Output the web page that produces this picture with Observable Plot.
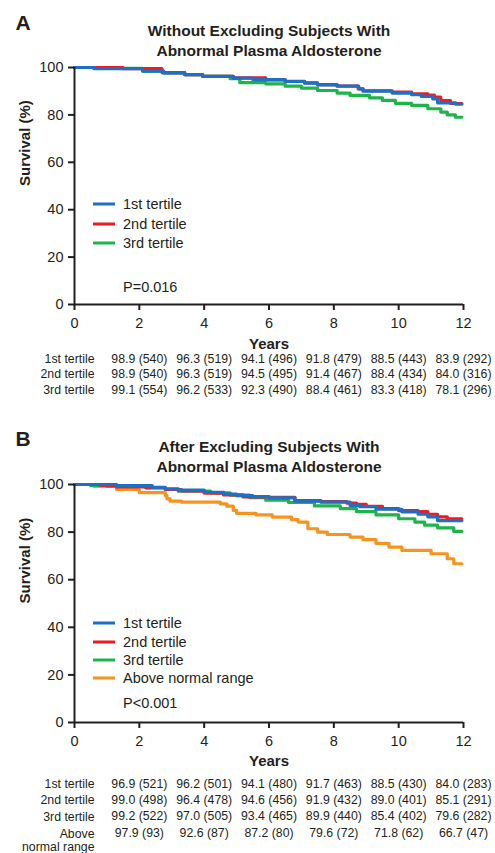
<!DOCTYPE html>
<html><head><meta charset="utf-8">
<script src="https://cdn.jsdelivr.net/npm/d3@7"></script>
<script src="https://cdn.jsdelivr.net/npm/@observablehq/plot@0.6"></script>
<style>
body{margin:0;background:#fff;font-family:"Liberation Sans",Arial,sans-serif;color:#231f20}
#wrap{position:relative;width:495px;height:853px;overflow:hidden;background:#fff}
#wrap svg{position:absolute;left:0;overflow:visible}
.lg{position:absolute;white-space:nowrap;font-size:14.5px;line-height:1;transform:translateY(-50%)}
.sw{position:absolute;width:22px;height:3px;transform:translateY(-50%)}
</style></head><body><div id="wrap"></div>
<script>
// ---------- data ----------
const tableYears = [2, 4, 6, 8, 10, 12];
const xTicks = [0, 2, 4, 6, 8, 10, 12];
const yTicks = [0, 20, 40, 60, 80, 100];

const titleA = "Without Excluding Subjects With\nAbnormal Plasma Aldosterone";
const titleB = "After Excluding Subjects With\nAbnormal Plasma Aldosterone";
const pA = "P=0.016";
const pB = "P<0.001";
const namesA = ["1st tertile", "2nd tertile", "3rd tertile"];
const namesB = ["1st tertile", "2nd tertile", "3rd tertile", "Above normal range"];
const rowLabelsB = ["1st tertile", "2nd tertile", "3rd tertile", "Above\nnormal range"];
const colors = ["#1f6fc5", "#ec1c24", "#1db54a", "#f7931e"];

// Panel A curves (years, survival %)
const a1Time = [0, 0.6, 2.1, 2.75, 3.4, 3.95, 4.9, 5.5, 6.5, 7.1, 7.5, 8.1, 8.77, 8.9, 9.8, 10.4, 10.7, 11.05, 11.2, 11.76, 11.95];
const a1Surv = [100, 99.5, 98.5, 97.7, 97.0, 96.3, 95.5, 94.9, 94.1, 93.4, 92.7, 92.1, 91.0, 90.0, 89.2, 88.5, 87.8, 86.8, 85.1, 84.5, 84.5];
const a2Time = [0, 1.5, 2.7, 3.4, 3.95, 4.9, 5.9, 6.5, 7.1, 7.5, 8.1, 8.75, 8.9, 9.8, 10.4, 10.9, 11.1, 11.3, 11.6, 11.95];
const a2Surv = [100, 99.5, 97.8, 97.0, 96.3, 95.6, 94.8, 94.2, 93.5, 92.8, 92.2, 91.0, 90.2, 89.6, 88.9, 88.4, 87.5, 86.0, 84.8, 84.8];
const a3Time = [0, 0.8, 2.1, 2.75, 3.4, 3.95, 4.8, 5.1, 5.9, 6.5, 7.0, 7.5, 8.1, 8.5, 9.1, 9.5, 9.9, 10.4, 10.9, 11.3, 11.5, 11.75, 11.95];
const a3Surv = [100, 99.6, 98.5, 97.7, 97.0, 96.3, 95.3, 93.6, 93.1, 92.1, 91.3, 90.3, 89.2, 88.2, 87.2, 86.1, 84.9, 84.0, 82.6, 81.2, 80.0, 79.0, 79.0];

// Panel B curves
const b1Time = [0, 1.3, 2.4, 2.8, 3.2, 4.0, 4.6, 5.0, 5.5, 6.0, 6.8, 7.6, 8.5, 8.8, 9.3, 10.1, 10.6, 10.9, 11.2, 11.95];
const b1Surv = [100, 99.5, 98.8, 98.2, 97.6, 96.7, 96.0, 95.3, 94.9, 94.4, 93.0, 92.6, 91.2, 90.7, 89.6, 88.5, 87.5, 86.4, 84.8, 84.8];
const b2Time = [0, 0.8, 1.3, 2.2, 2.8, 3.3, 4.0, 4.6, 5.2, 6.0, 6.8, 7.6, 8.4, 8.7, 9.0, 9.5, 10.0, 10.6, 10.9, 11.2, 11.5, 11.95];
const b2Surv = [100, 99.6, 99.0, 98.7, 97.9, 97.3, 96.4, 95.6, 94.8, 94.6, 93.2, 92.8, 92.2, 91.7, 90.8, 89.9, 89.0, 88.6, 87.5, 86.4, 85.6, 85.6];
const b3Time = [0, 0.5, 1.0, 2.2, 2.8, 3.2, 4.2, 4.8, 5.4, 5.9, 6.6, 7.4, 8.2, 8.7, 9.3, 10.0, 10.5, 10.8, 11.2, 11.7, 11.95];
const b3Surv = [100, 99.5, 99.2, 98.6, 98.0, 97.2, 96.5, 95.5, 94.5, 93.4, 92.5, 91.0, 89.9, 88.6, 87.2, 85.6, 84.2, 82.9, 81.8, 80.3, 80.3];
const b4Time = [0, 0.6, 1.3, 2.0, 2.8, 2.85, 2.95, 3.3, 4.5, 4.7, 4.9, 5.0, 5.6, 6.1, 6.7, 6.9, 7.2, 7.5, 7.8, 8.5, 8.9, 9.3, 9.7, 10.1, 11.0, 11.5, 11.7, 11.95];
const b4Surv = [100, 99.3, 97.9, 96.6, 95.4, 94.0, 93.0, 92.6, 91.9, 90.9, 89.1, 87.9, 87.2, 86.3, 85.2, 84.2, 81.4, 80.0, 79.0, 77.9, 76.8, 75.3, 73.7, 72.3, 70.9, 68.8, 66.7, 66.7];

// Number-at-risk tables: survival (n)
const tA1 = ["98.9 (540)", "96.3 (519)", "94.1 (496)", "91.8 (479)", "88.5 (443)", "83.9 (292)"];
const tA2 = ["98.9 (540)", "96.3 (519)", "94.5 (495)", "91.4 (467)", "88.4 (434)", "84.0 (316)"];
const tA3 = ["99.1 (554)", "96.2 (533)", "92.3 (490)", "88.4 (461)", "83.3 (418)", "78.1 (296)"];
const tB1 = ["96.9 (521)", "96.2 (501)", "94.1 (480)", "91.7 (463)", "88.5 (430)", "84.0 (283)"];
const tB2 = ["99.0 (498)", "96.4 (478)", "94.6 (456)", "91.9 (432)", "89.0 (401)", "85.1 (291)"];
const tB3 = ["99.2 (522)", "97.0 (505)", "93.4 (465)", "89.9 (440)", "85.4 (402)", "79.6 (282)"];
const tB4 = ["97.9 (93)", "92.6 (87)", "87.2 (80)", "79.6 (72)", "71.8 (62)", "66.7 (47)"];

// ---------- drawing ----------
const FONT = "Liberation Sans, Arial, sans-serif";
const INK = "#231f20";
const TFS = 12.3;
const wrap = document.getElementById("wrap");

function toRows(times, survs) { return times.map((t, i) => ({t, s: survs[i]})); }

function panel(cfg) {
  const marks = [];
  for (const c of cfg.curves) {
    marks.push(Plot.line(toRows(c.t, c.s), {x: "t", y: "s", curve: "step-after", stroke: c.color, strokeWidth: 3.2}));
  }
  marks.push(Plot.ruleY([0], {stroke: INK, strokeWidth: 2}));
  marks.push(Plot.ruleX([0], {stroke: INK, strokeWidth: 2}));
  marks.push(Plot.axisX({ticks: xTicks, tickSize: 6, tickPadding: 7, strokeWidth: 2, stroke: INK, fill: INK, fontSize: 14.5, label: null, tickFormat: d => d}));
  marks.push(Plot.axisY({ticks: yTicks, tickSize: 6, tickPadding: 5, strokeWidth: 2, stroke: INK, fill: INK, fontSize: 14.5, label: null, tickFormat: d => d}));
  marks.push(Plot.text(["Years"], {frameAnchor: "bottom", lineAnchor: "middle", dy: cfg.yearsOff, fontSize: 15, fontWeight: "bold", fill: INK}));
  marks.push(Plot.text(["Survival (%)"], {frameAnchor: "left", lineAnchor: "middle", dx: -49.5, rotate: -90, fontSize: 15, fontWeight: "bold", fill: INK}));
  marks.push(Plot.text([cfg.title], {frameAnchor: "top", lineAnchor: "top", dy: cfg.titleOff, fontSize: 15.5, lineHeight: 1.29, fontWeight: "bold", fill: INK}));
  marks.push(Plot.text([cfg.letter], {frameAnchor: "top-left", lineAnchor: "top", textAnchor: "start", dx: -59, dy: cfg.letterOff, fontSize: 21, fontWeight: "bold", fill: INK}));
  cfg.tables.forEach((tab, r) => {
    const off = cfg.rowOffs[r];
    marks.push(Plot.text(tableYears, {x: d => d, text: (d, i) => tab[i], frameAnchor: "bottom", lineAnchor: "middle", dy: off, fontSize: TFS, fill: INK}));
    const lab = cfg.rowLabels[r];
    const multi = lab.includes("\n");
    marks.push(Plot.text([lab], {
      frameAnchor: "bottom-left", textAnchor: "end", dx: 20,
      lineAnchor: multi ? "top" : "middle", dy: multi ? off - 0.36 * TFS : off,
      lineHeight: 1.08, fontSize: TFS, fill: INK
    }));
  });
  const svg = Plot.plot({
    width: 495, height: cfg.height,
    marginTop: cfg.mt, marginBottom: cfg.mb, marginLeft: 74, marginRight: 32,
    style: {fontFamily: FONT, background: "transparent", color: INK},
    x: {domain: [0, 12]},
    y: {domain: [0, 100]},
    marks
  });
  svg.style.top = cfg.top + "px";
  wrap.appendChild(svg);
}

function legend(names, cols, ys, pText, pY) {
  names.forEach((n, i) => {
    const sw = document.createElement("div");
    sw.className = "sw"; sw.style.left = "93px"; sw.style.top = ys[i] + "px"; sw.style.background = cols[i];
    wrap.appendChild(sw);
    const t = document.createElement("div");
    t.className = "lg"; t.style.left = "123px"; t.style.top = ys[i] + "px"; t.textContent = n;
    wrap.appendChild(t);
  });
  const p = document.createElement("div");
  p.className = "lg"; p.style.left = "123px"; p.style.top = pY + "px"; p.textContent = pText;
  wrap.appendChild(p);
}

panel({
  top: 0, height: 405, mt: 67, mb: 101,
  title: titleA, titleOff: -45.8, letter: "A", letterOff: -52,
  yearsOff: 39.3,
  curves: [
    {t: a3Time, s: a3Surv, color: colors[2]},
    {t: a2Time, s: a2Surv, color: colors[1]},
    {t: a1Time, s: a1Surv, color: colors[0]}
  ],
  tables: [tA1, tA2, tA3], rowLabels: namesA, rowOffs: [54.3, 69.5, 85.3]
});
legend(namesA, colors, [204, 223.5, 243], pA, 287);

panel({
  top: 410, height: 443, mt: 74, mb: 131,
  title: titleB, titleOff: -46.2, letter: "B", letterOff: -53.3,
  yearsOff: 38.7,
  curves: [
    {t: b4Time, s: b4Surv, color: colors[3]},
    {t: b3Time, s: b3Surv, color: colors[2]},
    {t: b2Time, s: b2Surv, color: colors[1]},
    {t: b1Time, s: b1Surv, color: colors[0]}
  ],
  tables: [tB1, tB2, tB3, tB4], rowLabels: rowLabelsB, rowOffs: [61.3, 77.3, 94, 110.7]
});
legend(namesB, colors, [623, 641.5, 660, 678], pB, 703);
</script></body></html>
